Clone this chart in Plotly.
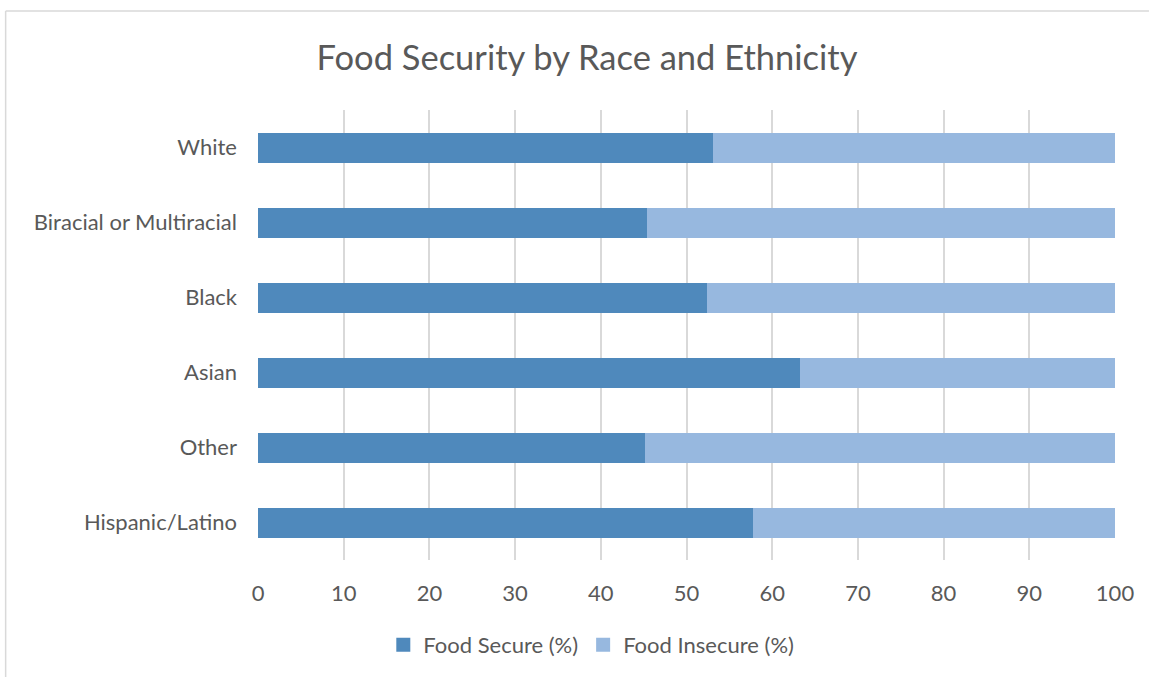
import plotly.graph_objects as go

# Categories listed bottom-to-top (Plotly draws the first category at the bottom)
groups = ["Hispanic/Latino", "Other", "Asian", "Black", "Biracial or Multiracial", "White"]
food_secure = [57.8, 45.2, 63.3, 52.4, 45.4, 53.1]
food_insecure = [42.2, 54.8, 36.7, 47.6, 54.6, 46.9]
x_ticks = [0, 10, 20, 30, 40, 50, 60, 70, 80, 90, 100]

FONT = "Lato"
TEXT = "#595959"
GRID = "#d9d9d9"
SECURE = "#4f89bc"
INSECURE = "#97b8df"

fig = go.Figure()
fig.add_trace(go.Bar(
    y=groups, x=food_secure, orientation="h", name="Food Secure (%)",
    marker=dict(color=SECURE, line=dict(width=0)), showlegend=False,
))
fig.add_trace(go.Bar(
    y=groups, x=food_insecure, orientation="h", name="Food Insecure (%)",
    marker=dict(color=INSECURE, line=dict(width=0)), showlegend=False,
))

# Legend entries drawn as square swatches
for name, color in [("Food Secure (%)", SECURE), ("Food Insecure (%)", INSECURE)]:
    fig.add_trace(go.Scatter(
        x=[None], y=[None], mode="markers", name=name,
        marker=dict(symbol="square", size=14, color=color),
    ))

fig.update_layout(
    barmode="stack",
    bargap=0.6,
    width=1149, height=677,
    margin=dict(l=257.5, r=34, t=110, b=117, autoexpand=False),
    paper_bgcolor="white", plot_bgcolor="white",
    font=dict(family=FONT, color=TEXT, size=22),
    title=dict(
        text="Food Security by Race and Ethnicity",
        x=587 / 1149, xanchor="center", xref="container",
        y=1 - 58 / 677, yanchor="middle",
        font=dict(family=FONT, size=34.5, color=TEXT),
    ),
    legend=dict(
        orientation="h", x=(591 - 257.5) / 857.5, xanchor="center",
        y=(560 - 645) / 450, yanchor="middle",
        font=dict(family=FONT, size=22, color=TEXT),
        itemwidth=30, traceorder="normal", itemsizing="trace",
    ),
    showlegend=True,
)

fig.update_xaxes(
    range=[0, 100], tickvals=x_ticks, showgrid=True, gridcolor=GRID, gridwidth=1.5,
    zeroline=False, showline=False, ticks="", ticklabelstandoff=18,
    tickfont=dict(family=FONT, size=22, color=TEXT), fixedrange=True,
)
fig.update_yaxes(
    showgrid=False, zeroline=False, showline=False, ticks="", ticklabelstandoff=20,
    tickfont=dict(family=FONT, size=22, color=TEXT), fixedrange=True,
)

# Chart frame (top and left edges)
fig.add_shape(type="line", xref="paper", yref="paper",
              x0=(5 - 257.5) / 857.5, x1=(1149 - 257.5) / 857.5,
              y0=(560 - 11) / 450, y1=(560 - 11) / 450,
              line=dict(color=GRID, width=1.5))
fig.add_shape(type="line", xref="paper", yref="paper",
              x0=(5 - 257.5) / 857.5, x1=(5 - 257.5) / 857.5,
              y0=(560 - 11) / 450, y1=(560 - 677) / 450,
              line=dict(color=GRID, width=1.5))

fig.write_html("out.html")
